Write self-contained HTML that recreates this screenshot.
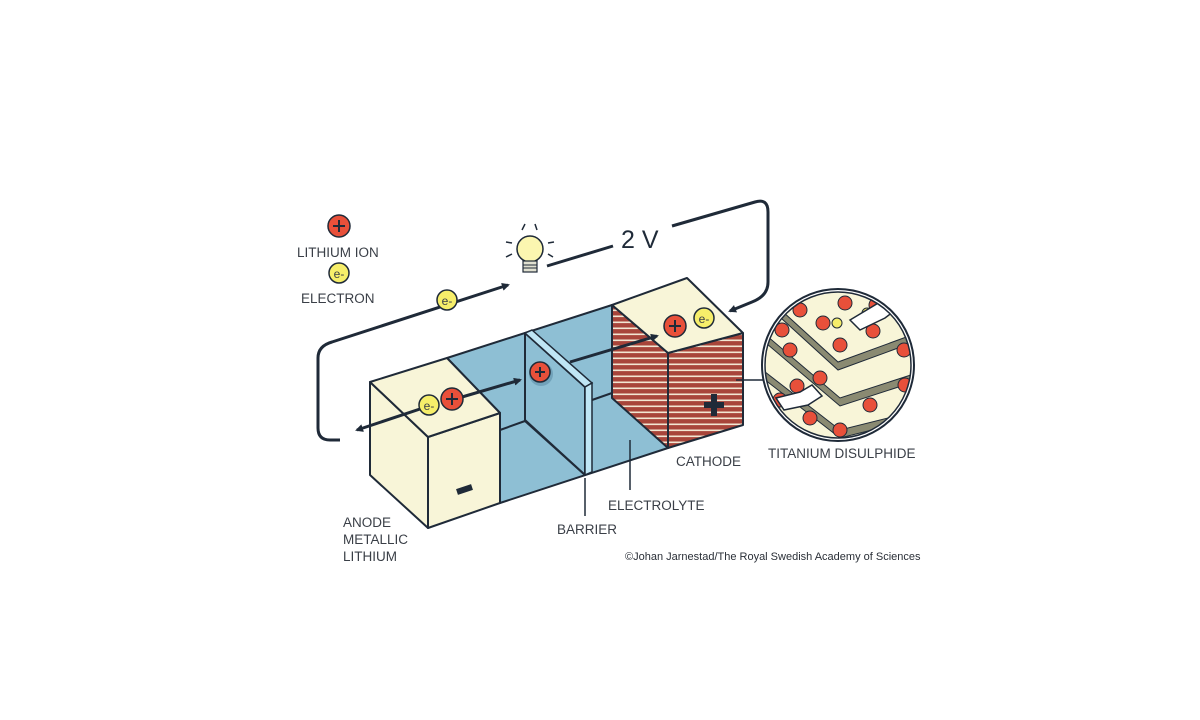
<!DOCTYPE html>
<html><head><meta charset="utf-8"><style>
html,body{margin:0;padding:0;background:#fff;}
svg{display:block;}
text{font-family:"Liberation Sans",sans-serif;fill:#3a3f47;}
</style></head><body>
<svg width="1200" height="720" viewBox="0 0 1200 720" xmlns="http://www.w3.org/2000/svg">
<defs>
<pattern id="stripe" width="6" height="6" patternUnits="userSpaceOnUse">
<rect width="6" height="6" fill="#a8453a"/><rect y="3.5" width="6" height="1.6" fill="#f2e6d2"/>
</pattern>
<pattern id="stripe2" width="6" height="6" patternUnits="userSpaceOnUse" patternTransform="rotate(40)">
<rect width="6" height="6" fill="#a8453a"/><rect y="3.5" width="6" height="1.6" fill="#f2e6d2"/>
</pattern>
<marker id="ah" markerWidth="8" markerHeight="8" refX="6" refY="4" orient="auto" markerUnits="userSpaceOnUse">
<path d="M0,0 L8,4 L0,8 Z" fill="#1f2a38"/>
</marker>
<clipPath id="circ"><circle cx="838" cy="365" r="73"/></clipPath>
</defs>

<!-- blue electrolyte -->
<polygon points="447,358 612,305 668,353 668,448 500,503 500,413" fill="#8ebfd4" stroke="#1f2a38" stroke-width="2" stroke-linejoin="round"/>
<polyline points="500,430 525,421" fill="none" stroke="#1f2a38" stroke-width="2"/>
<polyline points="592,400 612,393" fill="none" stroke="#1f2a38" stroke-width="2"/>
<line x1="612" y1="305" x2="612" y2="393" stroke="#1f2a38" stroke-width="2"/>
<!-- barrier -->
<polygon points="525,333 585,387 585,475 525,420" fill="#8ebfd4" stroke="#1f2a38" stroke-width="2" stroke-linejoin="round"/>
<polygon points="525,333 532,330 592,383 585,387" fill="#bfe6f5" stroke="#1f2a38" stroke-width="1.5"/>
<polygon points="585,387 592,383 592,472 585,475" fill="#bfe6f5" stroke="#1f2a38" stroke-width="1.5"/>
<line x1="525" y1="421" x2="585" y2="475" stroke="#1f2a38" stroke-width="2"/>

<!-- cathode -->
<polygon points="612,305 668,353 668,448 612,398" fill="url(#stripe)" stroke="#1f2a38" stroke-width="2" stroke-linejoin="round"/>
<polygon points="668,353 743,333 743,425 668,448" fill="url(#stripe)" stroke="#1f2a38" stroke-width="2" stroke-linejoin="round"/>
<polygon points="612,305 687,278 743,333 668,353" fill="#f8f5d8" stroke="#1f2a38" stroke-width="2" stroke-linejoin="round"/>
<path d="M704,405 h20 M714,394 v22" stroke="#1f2a38" stroke-width="6"/>

<!-- anode -->
<polygon points="370,382 428,437 428,528 370,475" fill="#f8f5d8" stroke="#1f2a38" stroke-width="2" stroke-linejoin="round"/>
<polygon points="428,437 500,413 500,503 428,528" fill="#f8f5d8" stroke="#1f2a38" stroke-width="2" stroke-linejoin="round"/>
<polygon points="370,382 447,358 500,413 428,437" fill="#f8f5d8" stroke="#1f2a38" stroke-width="2" stroke-linejoin="round"/>
<line x1="457" y1="492" x2="472" y2="487" stroke="#1f2a38" stroke-width="6"/>

<!-- wires -->
<path d="M547,266 L613,246" fill="none" stroke="#1f2a38" stroke-width="3"/>
<path d="M672,226 L755,202 Q768,198 768,212 L768,282 Q768,296 752,302 L730,311" fill="none" stroke="#1f2a38" stroke-width="3" marker-end="url(#ah)"/>
<path d="M340,440 L330,440 Q318,440 318,428 L318,358 Q318,346 332,342 L508,285" fill="none" stroke="#1f2a38" stroke-width="3" marker-end="url(#ah)"/>
<text x="621" y="248" font-size="25" style="fill:#1f2a38">2 V</text>

<!-- bulb -->
<g stroke="#1f2a38" stroke-width="1.5">
<line x1="525" y1="224" x2="522" y2="230"/><line x1="535" y1="224" x2="537" y2="230"/>
<line x1="512" y1="243" x2="506" y2="242"/><line x1="548" y1="243" x2="554" y2="242"/>
<line x1="512" y1="254" x2="506" y2="257"/><line x1="548" y1="254" x2="553" y2="257"/>
</g>
<circle cx="530" cy="249" r="13" fill="#fbf6b0" stroke="#1f2a38" stroke-width="1.5"/>
<rect x="523" y="261" width="14" height="11" fill="#e0e0d0" stroke="#1f2a38" stroke-width="1.2"/>
<path d="M523,265 h14 M523,268 h14" stroke="#1f2a38" stroke-width="1"/>

<!-- arrows through cell -->
<line x1="435" y1="404" x2="357" y2="430" stroke="#1f2a38" stroke-width="3" marker-end="url(#ah)"/>
<line x1="462" y1="397" x2="520" y2="380" stroke="#1f2a38" stroke-width="3" marker-end="url(#ah)"/>
<line x1="570" y1="362" x2="657" y2="336" stroke="#1f2a38" stroke-width="3" marker-end="url(#ah)"/>

<!-- particles -->
<g font-size="13" text-anchor="middle">
<circle cx="339" cy="226" r="11" fill="#e8503a" stroke="#1f2a38" stroke-width="1.5"/><path d="M333,226h12M339,220v12" stroke="#1f2a38" stroke-width="2"/>
<circle cx="339" cy="273" r="10" fill="#f6ee6a" stroke="#1f2a38" stroke-width="1.5"/><text x="339" y="278" font-size="12">e-</text>
<circle cx="447" cy="300" r="10" fill="#f6ee6a" stroke="#1f2a38" stroke-width="1.5"/><text x="447" y="305" font-size="12">e-</text>
<circle cx="429" cy="405" r="10" fill="#f6ee6a" stroke="#1f2a38" stroke-width="1.5"/><text x="429" y="410" font-size="12">e-</text>
<circle cx="452" cy="399" r="11" fill="#e8503a" stroke="#1f2a38" stroke-width="1.5"/><path d="M446,399h12M452,393v12" stroke="#1f2a38" stroke-width="2"/>
<circle cx="541" cy="374" r="12" fill="#5d8fa8" opacity="0.6"/>
<circle cx="540" cy="372" r="10" fill="#e8503a" stroke="#1f2a38" stroke-width="1.5"/><path d="M535,372h10M540,367v10" stroke="#1f2a38" stroke-width="2"/>
<circle cx="675" cy="326" r="11" fill="#e8503a" stroke="#1f2a38" stroke-width="1.5"/><path d="M669,326h12M675,320v12" stroke="#1f2a38" stroke-width="2"/>
<circle cx="704" cy="318" r="10" fill="#f6ee6a" stroke="#1f2a38" stroke-width="1.5"/><text x="704" y="323" font-size="12">e-</text>
</g>

<!-- leader from cathode to circle -->
<polyline points="736,380 770,380 780,370" fill="none" stroke="#1f2a38" stroke-width="1.5"/>

<!-- magnifier -->
<circle cx="838" cy="365" r="76" fill="#fff" stroke="#1f2a38" stroke-width="2"/>
<g clip-path="url(#circ)">
<rect x="760" y="288" width="160" height="160" fill="#f8f5d8"/>
<g fill="#8a8a72" stroke="#1f2a38" stroke-width="1">
<polygon points="770,300 838,362 920,332 920,340 838,370 770,308"/>
<polygon points="760,330 840,398 920,372 920,380 840,406 760,338"/>
<polygon points="760,368 840,430 920,410 920,418 840,438 760,376"/>
</g>
<g fill="#e8503a" stroke="#1f2a38" stroke-width="1">
<circle cx="800" cy="310" r="7"/><circle cx="823" cy="323" r="7"/><circle cx="845" cy="303" r="7"/><circle cx="876" cy="305" r="7"/>
<circle cx="840" cy="345" r="7"/><circle cx="873" cy="331" r="7"/><circle cx="904" cy="350" r="7"/><circle cx="790" cy="350" r="7"/>
<circle cx="797" cy="386" r="7"/><circle cx="782" cy="330" r="7"/><circle cx="905" cy="385" r="7"/><circle cx="820" cy="378" r="7"/>
<circle cx="870" cy="405" r="7"/><circle cx="840" cy="430" r="7"/><circle cx="780" cy="400" r="7"/><circle cx="810" cy="418" r="7"/>
</g>
<g fill="#f6ee6a" stroke="#1f2a38" stroke-width="1"><circle cx="837" cy="323" r="5"/><circle cx="867" cy="313" r="5"/></g>
<polygon points="850,320 880,302 888,296 898,308 885,318 860,330" fill="#fff" stroke="#1f2a38" stroke-width="1.5"/>
<polygon points="776,398 800,392 812,385 822,396 808,405 784,410" fill="#fff" stroke="#1f2a38" stroke-width="1.5"/>
</g>
<circle cx="838" cy="365" r="73" fill="none" stroke="#1f2a38" stroke-width="1.5"/>

<!-- leaders -->
<line x1="585" y1="478" x2="585" y2="516" stroke="#1f2a38" stroke-width="1.5"/>
<line x1="630" y1="440" x2="630" y2="490" stroke="#1f2a38" stroke-width="1.5"/>

<!-- labels -->
<g font-size="13.5">
<text x="297" y="257">LITHIUM ION</text>
<text x="301" y="303">ELECTRON</text>
<text x="676" y="466">CATHODE</text>
<text x="768" y="458">TITANIUM DISULPHIDE</text>
<text x="608" y="510">ELECTROLYTE</text>
<text x="557" y="534">BARRIER</text>
<text x="343" y="527">ANODE</text>
<text x="343" y="544">METALLIC</text>
<text x="343" y="561">LITHIUM</text>
</g>
<text x="625" y="560" font-size="11" style="fill:#2a2f37">©Johan Jarnestad/The Royal Swedish Academy of Sciences</text>
</svg>
</body></html>
